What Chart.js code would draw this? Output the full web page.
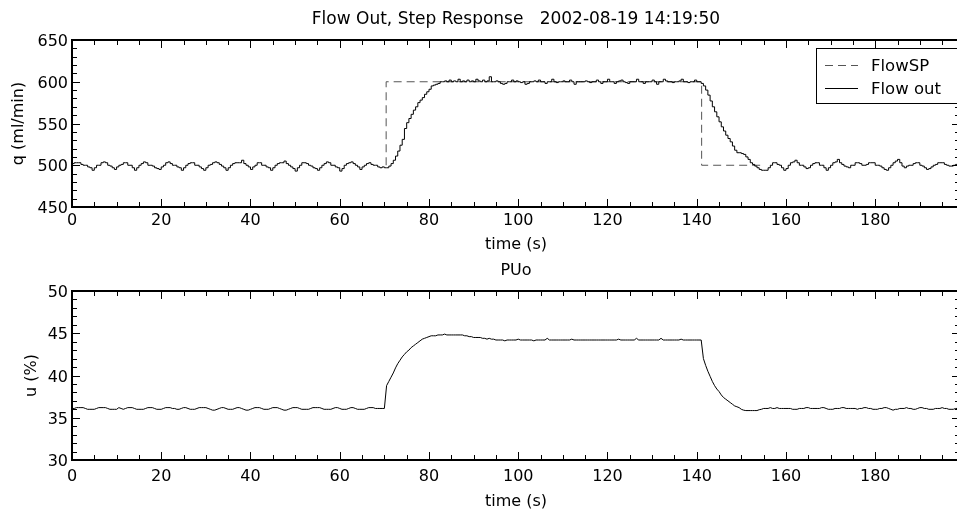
<!DOCTYPE html>
<html><head><meta charset="utf-8">
<script src="https://cdn.jsdelivr.net/npm/chart.js@4.4.1/dist/chart.umd.min.js"></script>
<style>
html,body{margin:0;padding:0;background:#fff;overflow:hidden;width:957px;height:514px;}
#c1{position:absolute;left:0;top:0;}
#c2{position:absolute;left:0;top:257px;}
</style></head><body>
<canvas id="c1" width="970" height="257"></canvas>
<canvas id="c2" width="970" height="257"></canvas>
<script>
// ---------------- data ----------------
const titleText = 'Flow Out, Step Response   2002-08-19 14:19:50';
const subTitleText = 'PUo';
const xLabel = 'time (s)';
const yLabelTop = 'q (ml/min)';
const yLabelBottom = 'u (%)';
const timeTicks = [0, 20, 40, 60, 80, 100, 120, 140, 160, 180];
const flowTicks = [450, 500, 550, 600, 650];
const uTicks = [30, 35, 40, 45, 50];
const sampleStep = 0.5; // s between samples

// Flow out (ml/min), one value every 0.5 s from 0 to 199 s
const flowOut = [
500,502,503,503,503,501,500,500,498,497,
494,497,500,500,503,504,503,500,499,497,
495,498,500,501,503,503,500,500,497,494,
497,500,502,504,503,500,500,499,497,496,
495,498,500,503,504,502,500,500,498,497,
494,497,500,502,503,503,500,500,498,496,
494,497,500,501,503,504,503,501,499,497,
494,497,500,502,503,503,503,506,502,500,
498,495,498,500,503,503,500,500,498,497,
494,497,500,502,503,503,505,502,500,498,
496,493,497,500,503,503,502,500,499,497,
496,494,497,500,502,504,503,500,500,498,
497,493,496,500,502,503,504,502,500,498,
495,498,500,502,503,501,500,500,498,497,
498,497,497,499,502,506,511,517,524,531,
544,551,556,561,566,570,575,578,581,585,
588,591,595,596,597,598,600,600,601,600,
602,600,601,600,603,600,601,600,602,600,
601,600,603,601,600,602,600,601,606,600,
600,601,600,598,597,598,600,600,602,600,
601,600,599,600,597,598,600,600,601,600,
602,600,600,598,600,600,603,600,599,600,
600,601,600,600,602,600,597,600,600,600,
600,601,600,599,600,600,602,600,598,600,
600,603,600,600,598,600,601,602,600,599,
598,600,600,600,603,600,600,598,600,600,
600,602,600,597,600,600,603,601,600,600,
599,600,600,601,603,600,600,599,600,600,
602,600,600,598,595,590,584,577,570,564,
558,552,546,541,536,532,528,523,518,515,
515,514,513,510,507,503,501,499,497,495,
494,494,494,497,500,503,503,501,500,497,
494,496,500,503,504,506,503,500,500,498,
496,497,500,502,503,503,500,500,497,494,
497,500,503,504,507,503,501,499,498,497,
500,500,503,503,502,500,500,501,503,503,
503,500,500,499,497,495,494,497,500,503,
505,507,503,499,497,499,500,500,502,503,
503,500,499,497,495,496,498,500,501,503,
503,503,501,500,499,499,500,501,500
];

// FlowSP set point: visible break points (s) and values (ml/min)
const spTime  = [70.4, 70.4, 141.1, 141.1, 154.5];
const spValue = [500, 600, 600, 500, 500];

// PUo output u (%), one value every 0.5 s from 0 to 199 s
const uOut = [
36.1,36.1,36.2,36.2,36.2,36.2,36.1,36.0,36.0,36.0,
36.0,36.1,36.2,36.2,36.2,36.2,36.1,36.0,36.0,36.0,
36.0,36.2,36.1,36.0,36.1,36.2,36.2,36.2,36.1,36.0,
36.0,36.0,36.0,36.1,36.2,36.2,36.2,36.1,36.0,36.0,
36.0,36.1,36.2,36.2,36.2,36.1,36.1,36.0,36.0,36.1,
36.2,36.2,36.1,36.0,36.0,36.0,36.1,36.2,36.2,36.2,
36.2,36.1,36.0,35.9,35.9,36.0,36.1,36.2,36.2,36.1,
36.0,36.0,36.0,36.1,36.2,36.2,36.1,36.0,35.9,35.9,
36.0,36.1,36.2,36.2,36.2,36.1,36.0,36.0,36.0,36.1,
36.2,36.2,36.2,36.1,36.0,35.9,35.9,36.0,36.1,36.2,
36.2,36.2,36.1,36.0,36.0,36.0,36.0,36.1,36.2,36.2,
36.2,36.2,36.1,36.0,36.0,36.0,36.0,36.1,36.2,36.2,
36.1,36.0,36.0,36.0,36.1,36.2,36.2,36.1,36.0,36.0,
36.0,36.0,36.1,36.2,36.2,36.2,36.1,36.1,36.1,36.1,
36.1,38.8,39.3,39.8,40.3,40.9,41.4,41.8,42.2,42.5,
42.8,43.0,43.3,43.5,43.7,43.9,44.1,44.3,44.4,44.5,
44.6,44.7,44.7,44.7,44.8,44.8,44.8,44.9,44.8,44.8,
44.8,44.8,44.8,44.8,44.8,44.8,44.7,44.7,44.6,44.6,
44.5,44.5,44.5,44.5,44.4,44.4,44.3,44.4,44.3,44.3,
44.2,44.2,44.2,44.2,44.1,44.2,44.2,44.2,44.2,44.2,
44.3,44.2,44.2,44.2,44.2,44.2,44.2,44.1,44.2,44.2,
44.2,44.2,44.2,44.4,44.2,44.2,44.2,44.2,44.2,44.2,
44.2,44.2,44.2,44.2,44.3,44.2,44.2,44.2,44.2,44.2,
44.2,44.2,44.2,44.2,44.2,44.2,44.2,44.2,44.2,44.2,
44.2,44.2,44.2,44.2,44.2,44.3,44.2,44.2,44.2,44.2,
44.2,44.2,44.2,44.4,44.2,44.2,44.2,44.2,44.2,44.2,
44.2,44.2,44.2,44.2,44.4,44.2,44.2,44.2,44.2,44.2,
44.2,44.2,44.2,44.3,44.2,44.2,44.2,44.2,44.2,44.2,
44.2,44.2,44.2,42.0,41.2,40.5,39.9,39.3,38.8,38.4,
38.1,37.7,37.4,37.2,37.0,36.8,36.6,36.4,36.3,36.2,
36.0,35.9,35.85,35.85,35.85,35.85,35.85,35.85,35.95,36.0,
36.1,36.1,36.1,36.2,36.1,36.1,36.2,36.1,36.1,36.1,
36.1,36.1,36.1,36.0,36.0,36.0,36.1,36.1,36.1,36.2,
36.2,36.1,36.1,36.1,36.1,36.1,36.2,36.2,36.1,36.0,
36.0,36.0,36.1,36.1,36.1,36.2,36.2,36.1,36.1,36.1,
36.1,36.1,36.0,36.1,36.1,36.2,36.2,36.1,36.1,36.0,
36.0,36.0,36.1,36.1,36.2,36.2,36.1,36.0,35.9,36.0,
36.0,36.1,36.1,36.1,36.2,36.1,36.1,36.0,36.0,36.1,
36.2,36.2,36.1,36.1,36.0,36.0,36.0,36.1,36.1,36.1,
36.2,36.1,36.1,36.0,36.0,36.0,36.1,36.1,36.1
];

// ---------------- chart ----------------
const FONT = "'DejaVu Sans', sans-serif";
Chart.defaults.font.family = FONT;
Chart.defaults.font.size = 16;
Chart.defaults.font.lineHeight = 1.2;
Chart.defaults.color = '#000';

const toXY = (vals) => vals.map((v, i) => ({x: i * sampleStep, y: v}));

const frameTicks = {
  id: 'frameTicks',
  afterDatasetsDraw(chart, args, o) {
    const {ctx, chartArea: a, scales: {x, y}} = chart;
    ctx.save();
    ctx.strokeStyle = '#000';
    ctx.lineWidth = 1;
    ctx.beginPath();
    for (let v = x.min; v <= x.max; v += o.xMinor) {
      const px = Math.round(x.getPixelForValue(v)) + 0.5;
      const len = (v % o.xMajor === 0) ? 8 : 5;
      ctx.moveTo(px, a.bottom); ctx.lineTo(px, a.bottom - len);
      ctx.moveTo(px, a.top); ctx.lineTo(px, a.top + len);
    }
    for (let v = y.min; v <= y.max; v += o.yMinor) {
      const py = Math.round(y.getPixelForValue(v)) + 0.5;
      const len = ((v - y.min) % o.yMajor === 0) ? 8 : 5;
      ctx.moveTo(a.left, py); ctx.lineTo(a.left + len, py);
      ctx.moveTo(a.right, py); ctx.lineTo(a.right - len, py);
    }
    ctx.stroke();
    ctx.lineWidth = 2;
    ctx.strokeRect(a.left, a.top, a.right - a.left, a.bottom - a.top);
    ctx.restore();
  }
};

const boxLegend = {
  id: 'boxLegend',
  afterDraw(chart, args, o) {
    if (!o.show) return;
    const ctx = chart.ctx;
    ctx.save();
    ctx.fillStyle = '#fff';
    ctx.fillRect(o.left, o.top, o.width, o.height);
    ctx.strokeStyle = '#000';
    ctx.lineWidth = 1;
    ctx.strokeRect(o.left + 0.5, o.top + 0.5, o.width, o.height);
    o.order.forEach((di, k) => {
      const ds = chart.data.datasets[di];
      const yy = o.top + o.rows[k];
      ctx.strokeStyle = ds.borderColor;
      ctx.setLineDash(ds.borderDash || []);
      ctx.beginPath();
      ctx.moveTo(o.left + 9, Math.round(yy) + 0.5);
      ctx.lineTo(o.left + 42, Math.round(yy) + 0.5);
      ctx.stroke();
      ctx.setLineDash([]);
      ctx.fillStyle = '#000';
      ctx.font = '16.5px ' + FONT;
      ctx.textBaseline = 'middle';
      ctx.textAlign = 'left';
      ctx.fillText(ds.label, o.left + 55, yy + 1.5);
    });
    ctx.restore();
  }
};

function makeChart(id, cfg) {
  return new Chart(document.getElementById(id), {
    type: 'line',
    data: {datasets: cfg.datasets},
    options: {
      responsive: false, animation: false, devicePixelRatio: 1, events: [],
      layout: {padding: {left: 0, right: 10, top: 0, bottom: 0}},
      plugins: {
        legend: {display: false}, tooltip: {enabled: false},
        title: {display: true, text: cfg.title, fullSize: false, color: '#000',
                font: {size: cfg.titleSize, weight: 'normal'}, padding: cfg.titlePad},
        frameTicks: cfg.frame,
        boxLegend: cfg.legend
      },
      scales: {
        x: {
          type: 'linear', min: 0, max: 199,
          grid: {display: false, drawTicks: false}, border: {display: false},
          ticks: {padding: cfg.xTickPad, includeBounds: false, maxRotation: 0, autoSkip: false, color: '#000'},
          afterBuildTicks: s => { s.ticks = timeTicks.map(v => ({value: v})); },
          afterFit: s => { s.height = cfg.xHeight; },
          title: {display: true, text: xLabel, color: '#000', padding: {top: 0, bottom: 2.4}}
        },
        y: {
          type: 'linear', min: cfg.yMin, max: cfg.yMax,
          grid: {display: false, drawTicks: false}, border: {display: false},
          ticks: {padding: 4, color: '#000', labelOffset: 2},
          afterBuildTicks: s => { s.ticks = cfg.yTicks.map(v => ({value: v})); },
          afterFit: s => { s.width = 72; },
          title: {display: true, text: cfg.yLabel, color: '#000', padding: {top: cfg.yTitlePad, bottom: 0}}
        }
      }
    },
    plugins: [frameTicks, boxLegend]
  });
}

makeChart('c1', {
  title: titleText, titleSize: 17,
  titlePad: {top: 9.8, bottom: 9.8},
  xTickPad: 4.4, xHeight: 50,
  yMin: 450, yMax: 650, yTicks: flowTicks, yLabel: yLabelTop, yTitlePad: 9,
  frame: {xMinor: 5, xMajor: 20, yMinor: 10, yMajor: 50},
  legend: {show: true, left: 816, top: 48, width: 145, height: 55, rows: [17, 40], order: [1, 0]},
  datasets: [
    {label: 'Flow out', data: toXY(flowOut), borderColor: '#000', borderWidth: 1,
     stepped: 'after', pointRadius: 0, fill: false, order: 0},
    {label: 'FlowSP', data: spTime.map((t, i) => ({x: t, y: spValue[i]})), borderColor: '#555',
     borderWidth: 1, borderDash: [8, 5], pointRadius: 0, fill: false, order: 1}
  ]
});

makeChart('c2', {
  title: subTitleText, titleSize: 16,
  titlePad: {top: 4, bottom: 10.8},
  xTickPad: 7.4, xHeight: 54,
  yMin: 30, yMax: 50, yTicks: uTicks, yLabel: yLabelBottom, yTitlePad: 21.9,
  frame: {xMinor: 5, xMajor: 20, yMinor: 1, yMajor: 5},
  legend: {show: false},
  datasets: [
    {label: 'PUo', data: toXY(uOut), borderColor: '#000', borderWidth: 1,
     pointRadius: 0, fill: false, tension: 0}
  ]
});
</script></body></html>
